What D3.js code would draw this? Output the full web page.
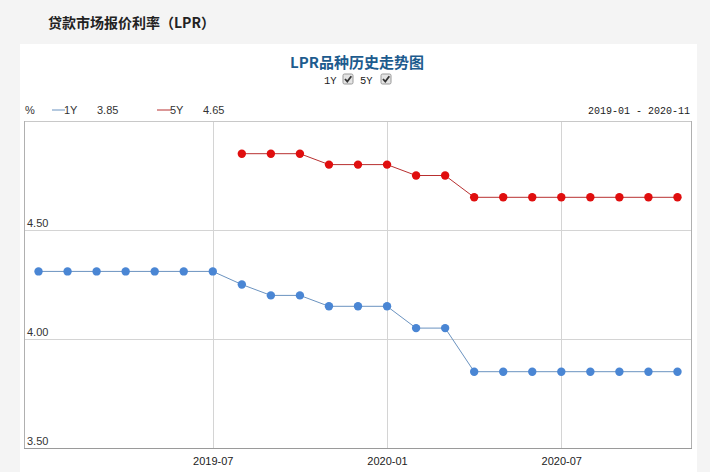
<!DOCTYPE html>
<html><head><meta charset="utf-8">
<script src="https://cdn.jsdelivr.net/npm/d3@7/dist/d3.min.js"></script>
<style>html,body{margin:0;padding:0;background:#f4f4f4;}svg{display:block;}</style>
</head><body>
<svg id="c" width="710" height="472"></svg>
<script>
const months = ["2019-01","2019-02","2019-03","2019-04","2019-05","2019-06","2019-07","2019-08","2019-09","2019-10","2019-11","2019-12","2020-01","2020-02","2020-03","2020-04","2020-05","2020-06","2020-07","2020-08","2020-09","2020-10","2020-11"];
const lpr1Y = [4.31,4.31,4.31,4.31,4.31,4.31,4.31,4.25,4.20,4.20,4.15,4.15,4.15,4.05,4.05,3.85,3.85,3.85,3.85,3.85,3.85,3.85,3.85];
const lpr5Y = [null,null,null,null,null,null,null,4.85,4.85,4.85,4.80,4.80,4.80,4.75,4.75,4.65,4.65,4.65,4.65,4.65,4.65,4.65,4.65];
const yTicks = [3.50,4.00,4.50];
const xTicks = ["2019-07","2020-01","2020-07"];
const pageTitle = "贷款市场报价利率（LPR）";
const chartTitle = "LPR品种历史走势图";
const rangeLabel = "2019-01 - 2020-11";

const svg = d3.select("#c");
const L = 24, R = 692, T = 121, B = 448;
const col1 = "#4a86d4", line1 = "#6b93c0", col5 = "#e00e0e", line5 = "#b83030";

// page title
svg.append("text").attr("x",48).attr("y",28).text(pageTitle)
  .attr("font-family","'Noto Sans CJK SC'").attr("font-weight","bold").attr("font-size",14).attr("fill","#222");
// white panel
svg.append("rect").attr("x",20).attr("y",44).attr("width",677).attr("height",440).attr("fill","#fff");

svg.append("text").attr("x",357).attr("y",68).attr("text-anchor","middle").text(chartTitle)
  .attr("font-family","'Noto Sans CJK SC'").attr("font-weight","bold").attr("font-size",15).attr("fill","#1d5b8e");

// checkboxes
function checkbox(x,y){
  const g = svg.append("g").attr("transform",`translate(${x},${y})`);
  g.append("rect").attr("width",10).attr("height",10).attr("rx",1.5).attr("fill","#e4e4e4").attr("stroke","#999");
  g.append("path").attr("d","M2,5 L4.3,7.6 L8.3,2.2").attr("fill","none").attr("stroke","#333").attr("stroke-width",1.8);
}
const mono = "'Liberation Mono', monospace";
svg.append("text").attr("x",324).attr("y",84).text("1Y").attr("font-family",mono).attr("font-size",10.5).attr("fill","#222");
checkbox(343,74);
svg.append("text").attr("x",360).attr("y",84).text("5Y").attr("font-family",mono).attr("font-size",10.5).attr("fill","#222");
checkbox(381,74);

// legend
const sans = "'Liberation Sans', Arial, sans-serif";
svg.append("text").attr("x",25).attr("y",114).text("%").attr("font-family",sans).attr("font-size",11).attr("fill","#333");
svg.append("line").attr("x1",52).attr("x2",65).attr("y1",110).attr("y2",110).attr("stroke",line1);
svg.append("text").attr("x",64).attr("y",114).text("1Y").attr("font-family",sans).attr("font-size",11).attr("fill","#333");
svg.append("text").attr("x",97).attr("y",114).text(lpr1Y[lpr1Y.length-1].toFixed(2)).attr("font-family",sans).attr("font-size",11).attr("fill","#333");
svg.append("line").attr("x1",157).attr("x2",171).attr("y1",110).attr("y2",110).attr("stroke",line5);
svg.append("text").attr("x",170).attr("y",114).text("5Y").attr("font-family",sans).attr("font-size",11).attr("fill","#333");
svg.append("text").attr("x",203).attr("y",114).text(lpr5Y[lpr5Y.length-1].toFixed(2)).attr("font-family",sans).attr("font-size",11).attr("fill","#333");
svg.append("text").attr("x",690).attr("y",114).attr("text-anchor","end").text(rangeLabel).attr("font-family",mono).attr("font-size",10).attr("fill","#222");

// scales
const x = d3.scalePoint().domain(months).range([L,R]).padding(0.5);
const y = d3.scaleLinear().domain([3.5,5.0]).range([B,T]);

// grid
const grid = svg.append("g");
grid.selectAll(".hg").data(yTicks.filter(v=>v>3.5)).join("line")
  .attr("x1",L).attr("x2",R).attr("y1",d=>Math.round(y(d))+0.5).attr("y2",d=>Math.round(y(d))+0.5).attr("stroke","#d4d4d4");
grid.selectAll(".vg").data(xTicks).join("line")
  .attr("x1",d=>Math.round(x(d))+0.5).attr("x2",d=>Math.round(x(d))+0.5).attr("y1",T).attr("y2",B).attr("stroke","#d4d4d4");
// border
svg.append("line").attr("x1",L).attr("x2",R).attr("y1",T+0.5).attr("y2",T+0.5).attr("stroke","#c8c8c8");
svg.append("line").attr("x1",L+0.5).attr("x2",L+0.5).attr("y1",T).attr("y2",B).attr("stroke","#b0b0b0");
svg.append("line").attr("x1",R-0.5).attr("x2",R-0.5).attr("y1",T).attr("y2",B).attr("stroke","#b0b0b0");
svg.append("line").attr("x1",L).attr("x2",R).attr("y1",B+0.5).attr("y2",B+0.5).attr("stroke","#9a9a9a");

// y labels
svg.selectAll(".yl").data(yTicks).join("text")
  .attr("x",L+3).attr("y",d=>y(d)-3).text(d=>d.toFixed(2))
  .attr("font-family",sans).attr("font-size",11).attr("fill","#333");
// x labels
const xAxis = d3.axisBottom(x).tickValues(xTicks).tickSize(0).tickPadding(9);
const gx = svg.append("g").attr("transform",`translate(0,${B})`).call(xAxis);
gx.select(".domain").remove();
gx.selectAll("text").attr("font-family",sans).attr("font-size",11).attr("fill","#222");

// series
function series(vals, lc, dc){
  const data = months.map((m,i)=>({m, v:vals[i]}));
  const line = d3.line().defined(d=>d.v!=null).x(d=>x(d.m)).y(d=>y(d.v));
  svg.append("path").datum(data).attr("d",line).attr("fill","none").attr("stroke",lc).attr("stroke-width",1);
  svg.append("g").selectAll("circle").data(data.filter(d=>d.v!=null)).join("circle")
    .attr("cx",d=>x(d.m)).attr("cy",d=>y(d.v)).attr("r",4.2).attr("fill",dc);
}
series(lpr5Y, line5, col5);
series(lpr1Y, line1, col1);
</script>
</body></html>
